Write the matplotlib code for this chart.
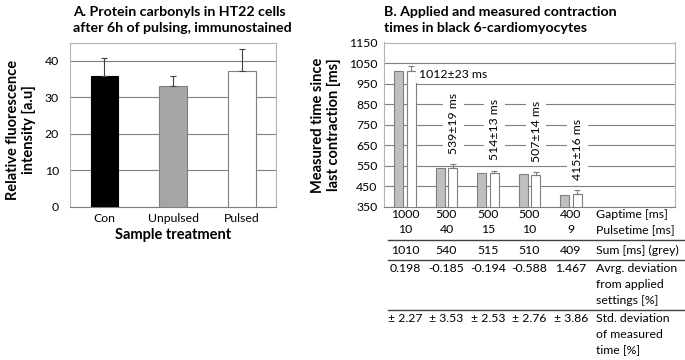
import numpy as np
import matplotlib.pyplot as plt
import matplotlib.transforms as mtransforms
from matplotlib.lines import Line2D

plt.rcParams['font.family'] = ['Lato', 'DejaVu Sans']

FS = 8.8     # ticks, table, annotations
FST = 10.2   # bold titles
FSL = 10.5   # bold axis labels

# panel A data
a_groups = ['Con', 'Unpulsed', 'Pulsed']
a_values = [35.7, 33.0, 37.3]
a_err = [5.1, 2.8, 6.0]

# panel B data
gaptime = [1000, 500, 500, 500, 400]
pulsetime = [10, 40, 15, 10, 9]
applied_sum = [1010, 540, 515, 510, 409]
measured = [1012, 539, 514, 507, 415]
measured_sd = [23, 19, 13, 14, 16]
avg_dev = ['0.198', '-0.185', '-0.194', '-0.588', '1.467']
std_dev = ['2.27', '3.53', '2.53', '2.76', '3.86']

W, H = 685, 360
def fx(px):
    return px / W
def fy(py):
    return 1 - py / H

GRID = '#7f7f7f'
FRAME = '#b3b3b3'

fig = plt.figure(figsize=(6.85, 3.6), dpi=100)
axA = fig.add_axes([fx(70), fy(207), fx(276.4) - fx(70), (207 - 42.5) / H])
axB = fig.add_axes([fx(384.3), fy(207), fx(674.5) - fx(384.3), (207 - 42.5) / H])

# ---- panel A
x = np.arange(len(a_groups))
axA.bar(x, a_values, width=0.4, color=['black', '#a6a6a6', 'white'],
        edgecolor=['black', '#7f7f7f', '#7f7f7f'], linewidth=0.8, zorder=3)
axA.errorbar(x, a_values, yerr=[np.zeros(len(x)), a_err], fmt='none',
             ecolor='#404040', elinewidth=0.8, capsize=2, capthick=0.8, zorder=4)
axA.set_xlim(-0.5, 2.5)
axA.set_ylim(0, 45)
axA.set_yticks([0, 10, 20, 30, 40])
axA.set_xticks(x)
axA.set_xticklabels(a_groups, fontsize=FS)
axA.tick_params(axis='y', labelsize=FS, length=0, pad=8)
axA.tick_params(axis='x', length=0, pad=4)
axA.yaxis.grid(True, color=GRID, linewidth=0.8, zorder=0)
axA.set_axisbelow(True)
for s in ['top', 'right', 'left']:
    axA.spines[s].set_color(FRAME)
axA.spines['bottom'].set_color(GRID)
axA.set_xlabel('Sample treatment', fontsize=FSL, fontweight='bold', labelpad=3)

fig.text(fx(73), fy(20), 'A. Protein carbonyls in HT22 cells\nafter 6h of pulsing, immunostained',
         fontsize=FST, fontweight='bold', ha='left', va='center', linespacing=1.3)
fig.text(fx(21), fy(130), 'Relative fluorescence\nintensity [a.u]', rotation=90,
         fontsize=FSL, fontweight='bold', ha='center', va='center', linespacing=1.2)

# ---- panel B
xb = np.arange(len(gaptime))
axB.bar(xb - 0.15, applied_sum, width=0.22, color='#bfbfbf', edgecolor='#7f7f7f',
        linewidth=0.8, zorder=3)
axB.bar(xb + 0.15, measured, width=0.22, color='white', edgecolor='#7f7f7f',
        linewidth=0.8, zorder=3)
axB.errorbar(xb + 0.15, measured, yerr=[np.zeros(len(xb)), measured_sd], fmt='none',
             ecolor='#7f7f7f', elinewidth=0.8, capsize=2, capthick=0.8, zorder=4)
axB.set_xlim(-0.5, 6.5)
axB.set_ylim(350, 1150)
axB.set_yticks(np.arange(350, 1151, 100))
axB.set_xticks([])
axB.tick_params(axis='y', labelsize=FS, length=0, pad=5)
axB.yaxis.grid(True, color=GRID, linewidth=0.8, zorder=0)
axB.set_axisbelow(True)
for s in ['top', 'right', 'left']:
    axB.spines[s].set_color(FRAME)
axB.spines['bottom'].set_color(GRID)

box = dict(boxstyle='square,pad=0.25', facecolor='white', edgecolor='none')
axB.text(0.34, measured[0] - 17, f'{measured[0]}\u00b1{measured_sd[0]} ms', fontsize=FS,
         ha='left', va='center', bbox=box, zorder=5)
for i in range(1, len(measured)):
    axB.text(i + 0.16, measured[i] + measured_sd[i] + 50,
             f'{measured[i]}\u00b1{measured_sd[i]} ms', rotation=90, fontsize=FS,
             ha='center', va='bottom', bbox=dict(boxstyle='square,pad=0.4',
                                                 facecolor='white', edgecolor='none'),
             zorder=5)

fig.text(fx(384), fy(20), 'B. Applied and measured contraction\ntimes in black 6-cardiomyocytes',
         fontsize=FST, fontweight='bold', ha='left', va='center', linespacing=1.3)
fig.text(fx(326), fy(125), 'Measured time since\nlast contraction [ms]', rotation=90,
         fontsize=FSL, fontweight='bold', ha='center', va='center', linespacing=1.2)

# table under panel B
trans = mtransforms.blended_transform_factory(axB.transData, fig.transFigure)
rows = [
    (215, [str(v) for v in gaptime]),
    (230, [str(v) for v in pulsetime]),
    (250, [str(v) for v in applied_sum]),
    (268, avg_dev),
    (318, ['\u00b1 ' + v for v in std_dev]),
]
for ypx, vals in rows:
    for i, v in enumerate(vals):
        fig.text(i, fy(ypx), v, transform=trans, fontsize=FS, ha='center', va='center')

row_labels = [(215, 'Gaptime [ms]'), (230, 'Pulsetime [ms]'), (250, 'Sum [ms] (grey)'),
              (268, 'Avrg. deviation'), (285, 'from applied'), (300, 'settings [%]'),
              (318, 'Std. deviation'), (335, 'of measured'), (350, 'time [%]')]
for ypx, lab in row_labels:
    fig.text(4.6, fy(ypx), lab, transform=trans, fontsize=FS, ha='left', va='center')

for ypx in [240, 259.5, 309.5]:
    fig.add_artist(Line2D([fx(388), 1], [fy(ypx), fy(ypx)], transform=fig.transFigure,
                          color='#404040', linewidth=1.0))

fig.savefig('out.png', dpi=100)
